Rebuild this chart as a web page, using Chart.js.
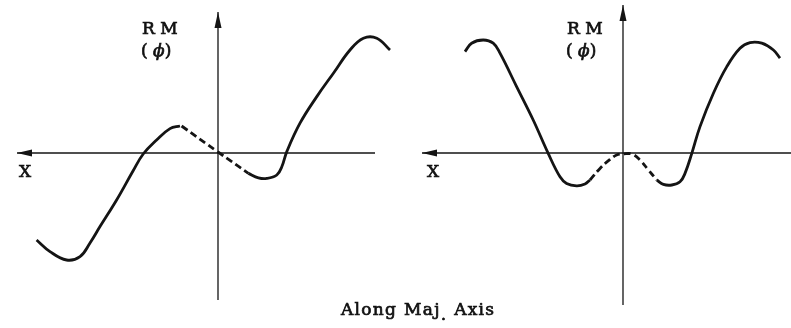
<!DOCTYPE html>
<html>
<head>
<meta charset="utf-8">
<script src="https://cdn.jsdelivr.net/npm/chart.js@4/dist/chart.umd.min.js"></script>
<style>
  body { margin: 0; background: #fff; }
  #wrap { position: relative; width: 791px; height: 328px; overflow: hidden; }
  canvas { position: absolute; top: 0; }
  .lbl { position: absolute; font-family: "DejaVu Serif", serif; color: #111; white-space: pre; line-height: 1; -webkit-text-stroke: 0.7px #111; }
</style>
</head>
<body>
<div id="wrap">
  <canvas id="leftChart" width="400" height="328" style="left:0"></canvas>
  <canvas id="rightChart" width="391" height="328" style="left:400px"></canvas>
  <div class="lbl" style="left:142px;top:20px;font-size:17px">R M</div>
  <div class="lbl" style="left:141px;top:42px;font-size:17px">( <i>ϕ</i>)</div>
  <div class="lbl" style="left:567px;top:20px;font-size:17px">R M</div>
  <div class="lbl" style="left:566px;top:42px;font-size:17px">( <i>ϕ</i>)</div>
  <div class="lbl" style="left:19px;top:163px;font-size:17px">X</div>
  <div class="lbl" style="left:427px;top:163px;font-size:17px">X</div>
  <div class="lbl" style="left:341px;top:301px;font-size:17px;letter-spacing:1.3px">Along Maj<span style="position:relative;top:5px">.</span> Axis</div>
</div>
<script>
// left panel: antisymmetric RM profile (x units, RM units)
const leftSolid1X = [-9.07, -8.4, -7.57, -6.9, -6.4, -5.9, -5.07, -4.25, -3.74, -3.07, -2.4, -1.9];
const leftSolid1Y = [-4.35, -4.93, -5.35, -5.18, -4.5, -3.68, -2.35, -0.9, -0.05, 0.65, 1.22, 1.35];
const leftDashX = [-1.82, 0, 1.52];
const leftDashY = [1.35, 0.05, -1.02];
const leftSolid2X = [1.52, 2.02, 2.44, 2.94, 3.19, 3.44, 4.1, 4.94, 5.77, 6.6, 7.27, 7.94, 8.6];
const leftSolid2Y = [-1.02, -1.24, -1.27, -1.1, -0.69, 0.07, 1.49, 2.82, 3.99, 5.15, 5.74, 5.74, 5.15];

// right panel: symmetric RM profile
const rightSolid1X = [-7.9, -7.57, -6.99, -6.49, -6.15, -5.32, -4.49, -3.74, -3.15, -2.82, -2.32, -1.9, -1.65];
const rightSolid1Y = [5.07, 5.49, 5.65, 5.49, 4.99, 3.32, 1.65, -0.02, -1.19, -1.52, -1.64, -1.55, -1.35];
const rightDashX = [-1.65, -1.15, -0.65, -0.32, 0, 0.44, 0.85, 1.27, 1.69];
const rightDashY = [-1.35, -0.77, -0.32, -0.1, -0.05, -0.05, -0.35, -0.85, -1.35];
const rightSolid2X = [1.69, 2.02, 2.44, 2.85, 3.1, 3.44, 3.85, 4.52, 5.19, 5.85, 6.35, 6.94, 7.52, 7.85];
const rightSolid2Y = [-1.35, -1.57, -1.6, -1.44, -1.02, -0.02, 1.32, 2.99, 4.32, 5.24, 5.52, 5.49, 5.15, 4.74];

// axis extents [start, end]
const leftAxisX = [-10.05, 7.85];
const leftAxisY = [7.05, -7.35];
const rightAxisX = [-10.05, 8.4];
const rightAxisY = [7.4, -7.6];

const ink = '#141414';

function pts(xs, ys) {
  return xs.map((x, i) => ({ x: x, y: ys[i] }));
}

function curve(xs, ys, dashed) {
  return {
    data: pts(xs, ys),
    showLine: true,
    borderColor: ink,
    borderWidth: 2.8,
    borderDash: dashed ? [7, 4] : [],
    pointRadius: 0,
    tension: 0.4,
    clip: false
  };
}

function axisLine(xs, ys) {
  return {
    data: pts(xs, ys),
    showLine: true,
    borderColor: ink,
    borderWidth: 1.3,
    pointRadius: 0,
    tension: 0,
    clip: false
  };
}

// arrowheads at the left end of the X axis and top of the RM axis
const arrowPlugin = {
  id: 'arrows',
  afterDatasetsDraw(chart, args, opts) {
    const ctx = chart.ctx;
    const xs = chart.scales.x, ys = chart.scales.y;
    const hx = xs.getPixelForValue(opts.ax[0]), hy = ys.getPixelForValue(0);
    const vx = xs.getPixelForValue(0), vy = ys.getPixelForValue(opts.ay[0]);
    ctx.save();
    ctx.fillStyle = ink;
    ctx.beginPath();
    ctx.moveTo(hx, hy);
    ctx.lineTo(hx + 15, hy - 3.5);
    ctx.lineTo(hx + 15, hy + 3.5);
    ctx.closePath();
    ctx.fill();
    ctx.beginPath();
    ctx.moveTo(vx, vy);
    ctx.lineTo(vx - 3.5, vy + 16);
    ctx.lineTo(vx + 3.5, vy + 16);
    ctx.closePath();
    ctx.fill();
    ctx.restore();
  }
};

function makeChart(id, sets, ax, ay, xmin, xmax) {
  return new Chart(document.getElementById(id), {
    type: 'scatter',
    data: {
      datasets: [
        axisLine(ax, [0, 0]),
        axisLine([0, 0], ay)
      ].concat(sets)
    },
    options: {
      responsive: false,
      animation: false,
      layout: { padding: 0, autoPadding: false },
      events: [],
      scales: {
        x: { type: 'linear', display: false, min: xmin, max: xmax },
        y: { type: 'linear', display: false, min: -8.75, max: 7.65 }
      },
      plugins: {
        legend: { display: false },
        tooltip: { enabled: false },
        arrows: { ax: ax, ay: ay }
      }
    },
    plugins: [arrowPlugin]
  });
}

makeChart('leftChart', [
  curve(leftSolid1X, leftSolid1Y, false),
  curve(leftDashX, leftDashY, true),
  curve(leftSolid2X, leftSolid2Y, false)
], leftAxisX, leftAxisY, -10.9, 9.1);

makeChart('rightChart', [
  curve(rightSolid1X, rightSolid1Y, false),
  curve(rightDashX, rightDashY, true),
  curve(rightSolid2X, rightSolid2Y, false)
], rightAxisX, rightAxisY, -11.15, 8.4);
</script>
</body>
</html>
